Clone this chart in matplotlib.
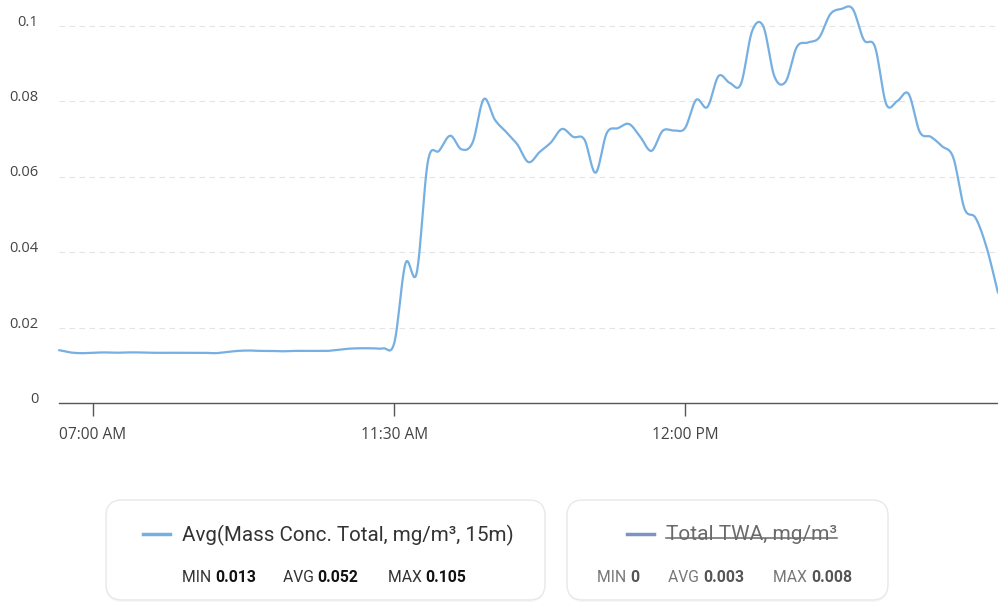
import numpy as np
import matplotlib
matplotlib.use("Agg")
import matplotlib.pyplot as plt
from matplotlib.patches import FancyBboxPatch
from matplotlib.lines import Line2D
from matplotlib.transforms import IdentityTransform

# ---------------- data ----------------
values = [
    0.0140, 0.0134, 0.0132, 0.0133, 0.0134, 0.0133, 0.0134, 0.0134, 0.0133, 0.0133,
    0.0133, 0.0133, 0.0133, 0.0133, 0.0132, 0.0135, 0.0138, 0.0139, 0.0138, 0.0138,
    0.0137, 0.0138, 0.0138, 0.0138, 0.0138, 0.0141, 0.0144, 0.0145, 0.0145, 0.0145,
    0.0160, 0.0370, 0.0345, 0.0640, 0.0668, 0.0708, 0.0672, 0.0690, 0.0805, 0.0750,
    0.0718, 0.0685, 0.0638, 0.0665, 0.0690, 0.0726, 0.0705, 0.0698, 0.0610, 0.0715,
    0.0728, 0.0739, 0.0705, 0.0668, 0.0721, 0.0722, 0.0728, 0.0803, 0.0784, 0.0866,
    0.0848, 0.0845, 0.0985, 0.0998, 0.0865, 0.0851, 0.0943, 0.0955, 0.0968, 0.1030,
    0.1044, 0.1044, 0.0962, 0.0943, 0.0792, 0.0800, 0.0819, 0.0718, 0.0705, 0.0680,
    0.0650, 0.0515, 0.0490, 0.0410, 0.0292,
]
x_tick_index = [3, 30, 56]
x_tick_labels = ["07:00 AM", "11:30 AM", "12:00 PM"]
y_ticks = [0, 0.02, 0.04, 0.06, 0.08, 0.1]
y_tick_labels = ["0", "0.02", "0.04", "0.06", "0.08", "0.1"]
series_names = ["Avg(Mass Conc. Total, mg/m³, 15m)", "Total TWA, mg/m³"]
series_colors = ["#76afe1", "#7d93c4"]
stat_names = ["MIN", "AVG", "MAX"]
stats_series1 = ["0.013", "0.052", "0.105"]
stats_series2 = ["0", "0.003", "0.008"]

# ---------------- figure ----------------
W, H = 998, 604
fig = plt.figure(figsize=(W / 100, H / 100), dpi=100)
fig.patch.set_facecolor("white")
AX_FONT = "Open Sans"
LEG_FONT = "Roboto"

ax = fig.add_axes([59 / W, (H - 403) / H, (998 - 59) / W, 403 / H])
ax.set_facecolor("white")


def smooth_curve(y, n=20):
    y = np.asarray(y, dtype=float)
    k = len(y)
    m = np.zeros(k)
    m[1:-1] = (y[2:] - y[:-2]) / 2.0
    m[0] = y[1] - y[0]
    m[-1] = y[-1] - y[-2]
    xs, ys = [], []
    for i in range(k - 1):
        t = np.linspace(0, 1, n, endpoint=False)
        h00 = 2 * t**3 - 3 * t**2 + 1
        h10 = t**3 - 2 * t**2 + t
        h01 = -2 * t**3 + 3 * t**2
        h11 = t**3 - t**2
        xs.append(i + t)
        ys.append(h00 * y[i] + h10 * m[i] + h01 * y[i + 1] + h11 * m[i + 1])
    xs.append(np.array([k - 1]))
    ys.append(np.array([y[-1]]))
    return np.concatenate(xs), np.concatenate(ys)


xs, ys = smooth_curve(values)
ax.plot(xs, ys, color=series_colors[0], lw=1.6, solid_capstyle="round", zorder=3, clip_on=False)

ax.set_xlim(0, len(values) - 1)
ax.set_ylim(0, 403 * 0.02 / 75.5)

for v in y_ticks[1:]:
    ax.axhline(v, color="#e4e4e4", lw=0.8, ls=(0, (5, 4)), zorder=0)

for s in ["top", "right", "left"]:
    ax.spines[s].set_visible(False)
ax.spines["bottom"].set_color("#555555")
ax.spines["bottom"].set_linewidth(1.0)

ax.set_xticks(x_tick_index)
ax.set_xticklabels(x_tick_labels, fontfamily=AX_FONT, fontsize=11.2, color="#444444")
ax.tick_params(axis="x", length=9, width=1, color="#555555", pad=8)

ax.set_yticks(y_ticks)
ax.set_yticklabels(y_tick_labels, fontfamily=AX_FONT, fontsize=10.5, color="#444444")
ax.tick_params(axis="y", length=0, pad=15)
for lab in ax.get_yticklabels():
    lab.set_verticalalignment("baseline")

# ---------------- legend boxes ----------------
ID = IdentityTransform()


def box(x0, y0, x1, y1):
    sh = FancyBboxPatch((x0, H - y1 - 2), x1 - x0, y1 - y0,
                        boxstyle="round,pad=0,rounding_size=16",
                        transform=ID, facecolor="#000000", alpha=0.035,
                        edgecolor="none", zorder=1)
    fig.patches.append(sh)
    p = FancyBboxPatch((x0, H - y1), x1 - x0, y1 - y0,
                       boxstyle="round,pad=0,rounding_size=16",
                       transform=ID, facecolor="white", edgecolor="#e8e8e8",
                       lw=1.0, zorder=2)
    fig.patches.append(p)


box(106, 500, 545, 600)
box(567, 500, 888, 600)

# legend handles
fig.lines.append(Line2D([143, 170], [H - 534, H - 534], transform=ID,
                        color=series_colors[0], lw=2.5, zorder=3))
fig.lines.append(Line2D([627, 654], [H - 534, H - 534], transform=ID,
                        color=series_colors[1], lw=2.5, zorder=3))

t1 = fig.text(182, H - 535, series_names[0], transform=ID, fontfamily=LEG_FONT,
              fontsize=14.8, color="#333333", va="center", ha="left", zorder=3)
t2 = fig.text(666, H - 535, series_names[1], transform=ID, fontfamily=LEG_FONT,
              fontsize=15.0, color="#6a6a6a", va="center", ha="left", zorder=3)

fig.canvas.draw()
r = fig.canvas.get_renderer()
bb = t2.get_window_extent(r)
ys_strike = H - 538
fig.lines.append(Line2D([bb.x0, bb.x1], [ys_strike, ys_strike], transform=ID,
                        color="#6a6a6a", lw=1.1, zorder=4))


def stat_row(xpos, vals, lab_color, val_color):
    for xp, name, val in zip(xpos, stat_names, vals):
        a = fig.text(xp, H - 577, name + " ", transform=ID, fontfamily=LEG_FONT,
                     fontsize=11.3, color=lab_color, va="center", ha="left", zorder=3)
        fig.canvas.draw()
        e = a.get_window_extent(fig.canvas.get_renderer())
        fig.text(e.x1, H - 577, val, transform=ID, fontfamily=LEG_FONT,
                 fontsize=11.3, color=val_color, fontweight="bold",
                 va="center", ha="left", zorder=3)


stat_row([182, 283, 388], stats_series1, "#333333", "#111111")
stat_row([597, 668, 773], stats_series2, "#777777", "#555555")

fig.savefig("out.png", dpi=100, facecolor="white")
